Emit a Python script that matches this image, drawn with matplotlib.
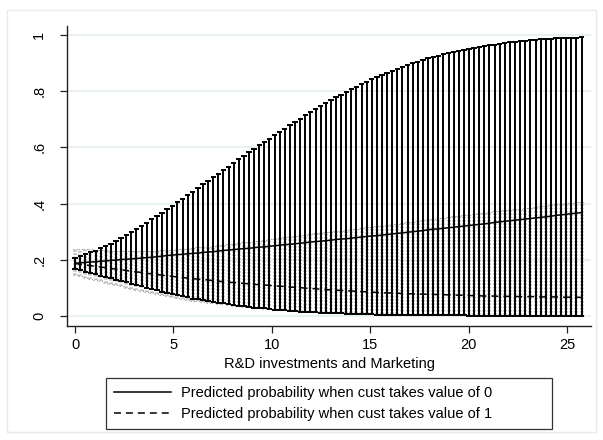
import numpy as np
import matplotlib
matplotlib.use("Agg")
import matplotlib.pyplot as plt
from matplotlib.collections import LineCollection
from matplotlib.lines import Line2D
from matplotlib.patches import Rectangle

plt.rcParams['font.family'] = ['Liberation Sans', 'DejaVu Sans']
plt.rcParams['lines.scale_dashes'] = False

# ---------------- data ----------------
x_step = 0.26
n_points = 100
x_vals = np.round(np.arange(n_points) * x_step, 2)

# cust = 0 : predicted probability and confidence bounds
mean0 = [0.188, 0.189, 0.191, 0.192, 0.193, 0.195, 0.196, 0.198, 0.199, 0.201,
         0.202, 0.203, 0.205, 0.206, 0.208, 0.209, 0.211, 0.213, 0.215, 0.217,
         0.218, 0.220, 0.221, 0.223, 0.224, 0.226, 0.228, 0.229, 0.231, 0.233,
         0.235, 0.236, 0.238, 0.240, 0.241, 0.243, 0.245, 0.246, 0.248, 0.250,
         0.252, 0.254, 0.255, 0.257, 0.259, 0.261, 0.263, 0.265, 0.266, 0.268,
         0.270, 0.272, 0.274, 0.275, 0.277, 0.279, 0.281, 0.283, 0.285, 0.286,
         0.288, 0.290, 0.292, 0.294, 0.296, 0.298, 0.300, 0.302, 0.304, 0.307,
         0.309, 0.310, 0.312, 0.314, 0.316, 0.318, 0.320, 0.322, 0.324, 0.326,
         0.328, 0.330, 0.333, 0.335, 0.337, 0.339, 0.341, 0.343, 0.345, 0.347,
         0.349, 0.351, 0.353, 0.355, 0.358, 0.360, 0.362, 0.364, 0.366, 0.368]
upper0 = [0.208, 0.214, 0.220, 0.227, 0.233, 0.242, 0.250, 0.258, 0.267, 0.278,
          0.288, 0.298, 0.309, 0.321, 0.332, 0.344, 0.356, 0.368, 0.380, 0.392,
          0.405, 0.417, 0.430, 0.442, 0.455, 0.468, 0.480, 0.493, 0.506, 0.518,
          0.531, 0.544, 0.557, 0.569, 0.582, 0.595, 0.607, 0.619, 0.631, 0.643,
          0.655, 0.667, 0.679, 0.691, 0.702, 0.714, 0.725, 0.736, 0.747, 0.757,
          0.768, 0.778, 0.788, 0.798, 0.807, 0.816, 0.825, 0.834, 0.842, 0.850,
          0.858, 0.866, 0.873, 0.880, 0.887, 0.893, 0.900, 0.905, 0.911, 0.917,
          0.922, 0.926, 0.931, 0.936, 0.940, 0.944, 0.947, 0.951, 0.954, 0.958,
          0.961, 0.964, 0.966, 0.969, 0.971, 0.974, 0.976, 0.977, 0.979, 0.981,
          0.982, 0.984, 0.986, 0.987, 0.988, 0.989, 0.990, 0.991, 0.991, 0.992]
lower0 = [0.166, 0.162, 0.158, 0.154, 0.149, 0.144, 0.139, 0.134, 0.129, 0.125,
          0.120, 0.115, 0.110, 0.105, 0.100, 0.096, 0.091, 0.087, 0.082, 0.078,
          0.074, 0.070, 0.066, 0.062, 0.059, 0.056, 0.053, 0.050, 0.047, 0.045,
          0.042, 0.039, 0.037, 0.035, 0.032, 0.030, 0.029, 0.027, 0.025, 0.023,
          0.022, 0.020, 0.018, 0.017, 0.016, 0.015, 0.014, 0.013, 0.012, 0.011,
          0.010, 0.0095, 0.009, 0.0085, 0.008, 0.0074, 0.0069, 0.0064, 0.0058, 0.0053,
          0.0048, 0.0043, 0.0039, 0.0036, 0.0034, 0.0031, 0.0028, 0.0026, 0.0023, 0.0021,
          0.002, 0.002, 0.002, 0.002, 0.002, 0.002, 0.002, 0.001, 0.001, 0.001,
          0.001, 0.001, 0.001, 0.001, 0.001, 0.001, 0.001, 0.001, 0.001, 0.001,
          0.001, 0.001, 0.001, 0.001, 0.001, 0.001, 0.001, 0.001, 0.001, 0.001]

# cust = 1 : predicted probability and confidence bounds
mean1 = [0.187, 0.184, 0.182, 0.179, 0.177, 0.174, 0.172, 0.169, 0.167, 0.165,
         0.162, 0.159, 0.157, 0.155, 0.152, 0.150, 0.148, 0.145, 0.143, 0.141,
         0.139, 0.137, 0.135, 0.133, 0.131, 0.130, 0.128, 0.126, 0.124, 0.122,
         0.120, 0.119, 0.117, 0.116, 0.114, 0.113, 0.111, 0.110, 0.109, 0.107,
         0.106, 0.105, 0.103, 0.102, 0.101, 0.099, 0.098, 0.097, 0.095, 0.094,
         0.093, 0.092, 0.091, 0.090, 0.089, 0.088, 0.087, 0.086, 0.085, 0.084,
         0.083, 0.082, 0.082, 0.081, 0.080, 0.079, 0.079, 0.078, 0.078, 0.077,
         0.077, 0.076, 0.076, 0.075, 0.075, 0.074, 0.074, 0.073, 0.072, 0.072,
         0.071, 0.071, 0.071, 0.070, 0.070, 0.070, 0.070, 0.069, 0.069, 0.069,
         0.069, 0.068, 0.068, 0.068, 0.068, 0.067, 0.067, 0.067, 0.067, 0.066]
upper1 = [0.240, 0.239, 0.238, 0.237, 0.236, 0.235, 0.234, 0.233, 0.232, 0.232,
          0.231, 0.231, 0.231, 0.231, 0.232, 0.232, 0.233, 0.234, 0.235, 0.236,
          0.237, 0.239, 0.240, 0.242, 0.244, 0.246, 0.247, 0.249, 0.251, 0.253,
          0.255, 0.257, 0.260, 0.262, 0.264, 0.266, 0.268, 0.271, 0.273, 0.275,
          0.278, 0.280, 0.282, 0.285, 0.287, 0.289, 0.292, 0.294, 0.296, 0.298,
          0.300, 0.302, 0.304, 0.306, 0.308, 0.311, 0.313, 0.316, 0.318, 0.320,
          0.322, 0.325, 0.327, 0.329, 0.332, 0.334, 0.336, 0.339, 0.341, 0.344,
          0.346, 0.348, 0.350, 0.353, 0.355, 0.357, 0.359, 0.361, 0.363, 0.365,
          0.367, 0.369, 0.372, 0.374, 0.376, 0.378, 0.380, 0.382, 0.384, 0.386,
          0.388, 0.390, 0.392, 0.394, 0.397, 0.399, 0.401, 0.403, 0.404, 0.406]
lower1 = [0.145, 0.141, 0.136, 0.132, 0.127, 0.123, 0.118, 0.113, 0.109, 0.105,
          0.100, 0.096, 0.092, 0.088, 0.084, 0.081, 0.077, 0.073, 0.070, 0.067,
          0.064, 0.061, 0.058, 0.055, 0.053, 0.050, 0.047, 0.045, 0.043, 0.041,
          0.039, 0.037, 0.035, 0.033, 0.031, 0.029, 0.028, 0.026, 0.025, 0.023,
          0.022, 0.021, 0.019, 0.018, 0.017, 0.016, 0.015, 0.014, 0.014, 0.013,
          0.012, 0.011, 0.011, 0.010, 0.010, 0.009, 0.009, 0.008, 0.008, 0.007,
          0.007, 0.006, 0.006, 0.006, 0.005, 0.005, 0.005, 0.004, 0.004, 0.004,
          0.004, 0.003, 0.003, 0.003, 0.003, 0.003, 0.003, 0.003, 0.003, 0.003,
          0.003, 0.002, 0.002, 0.002, 0.002, 0.002, 0.002, 0.002, 0.002, 0.001,
          0.001, 0.001, 0.001, 0.001, 0.001, 0.001, 0.001, 0.001, 0.001, 0.001]

x_ticks = [0, 5, 10, 15, 20, 25]
y_ticks = [0, 0.2, 0.4, 0.6, 0.8, 1.0]
y_tick_labels = ["0", ".2", ".4", ".6", ".8", "1"]
x_label = "R&D investments and Marketing"
legend_labels = ["Predicted probability when cust takes value of 0",
                 "Predicted probability when cust takes value of 1"]

# ---------------- figure ----------------
W, H = 603, 440
fig = plt.figure(figsize=(W / 100, H / 100), dpi=100)
fig.patch.set_facecolor("white")
fig.add_artist(Rectangle((7 / W, 8 / H), (W - 14) / W, (H - 18) / H,
                         transform=fig.transFigure, fill=False,
                         edgecolor="#e4ecee", linewidth=1.0))

ax = fig.add_axes([67 / W, 1 - 325.7 / H, (591 - 67) / W, (325.7 - 26) / H])
ax.set_facecolor("white")
ax.set_xlim(-0.41, 26.22)
ax.set_ylim(-0.0345, 1.032)

for s in ("top", "right"):
    ax.spines[s].set_visible(False)
for s in ("left", "bottom"):
    ax.spines[s].set_color("#222222")
    ax.spines[s].set_linewidth(1.0)

ax.set_yticks(y_ticks)
ax.set_yticklabels(y_tick_labels, rotation=90, va="center")
ax.set_xticks(x_ticks)
ax.tick_params(axis="both", direction="out", length=5, width=0.9,
               color="#222222", labelsize=10.5, labelcolor="black", pad=3.5)
ax.tick_params(axis="y", pad=10)
ax.grid(axis="y", color="#e8f0f2", linewidth=1.4)
ax.set_axisbelow(True)
ax.set_xlabel(x_label, fontsize=10.5, labelpad=4)

cap0 = 0.135
cap1 = 0.13

def spikes(xs, lo, hi):
    return [[(xv, l), (xv, h)] for xv, l, h in zip(xs, lo, hi)]

def caps(xs, lo, hi, cap):
    segs = []
    for xv, l, h in zip(xs, lo, hi):
        segs.append([(xv - cap, l), (xv + cap, l)])
        segs.append([(xv - cap, h), (xv + cap, h)])
    return segs

# cust = 1 confidence intervals (light gray, dotted)
ax.add_collection(LineCollection(spikes(x_vals, lower1, upper1), colors="#bdbdbd",
                                 linewidths=2.6, linestyles=(0, (1.2, 1.2)),
                                 zorder=2))
ax.add_collection(LineCollection(caps(x_vals, lower1, upper1, cap1), colors="#aaaaaa",
                                 linewidths=0.8, linestyles=(0, (1.0, 1.4)),
                                 zorder=2))

# cust = 0 confidence intervals (black, solid)
ax.add_collection(LineCollection(spikes(x_vals, lower0, upper0), colors="black",
                                 linewidths=1.4, zorder=3))
ax.add_collection(LineCollection(caps(x_vals, lower0, upper0, cap0), colors="black",
                                 linewidths=1.4, zorder=3))

ax.plot(x_vals, mean0, color="black", linewidth=1.1, zorder=4)
ax.plot(x_vals, mean1, color="black", linewidth=1.1, zorder=4,
        dashes=(5.0, 3.6))

handles = [Line2D([], [], color="black", linewidth=1.1),
           Line2D([], [], color="black", linewidth=1.1, dashes=(5.0, 3.6))]
leg = fig.legend(handles, legend_labels, loc="center",
                 bbox_to_anchor=(106 / W, 1 - 430 / H, 446 / W, 53 / H),
                 mode="expand", fontsize=10.5, frameon=True, fancybox=False,
                 edgecolor="black", handlelength=3.9, handletextpad=0.7,
                 borderpad=0.55, labelspacing=0.45, borderaxespad=0)
leg.get_frame().set_linewidth(0.9)

fig.savefig("out.png", dpi=100, facecolor="white")
